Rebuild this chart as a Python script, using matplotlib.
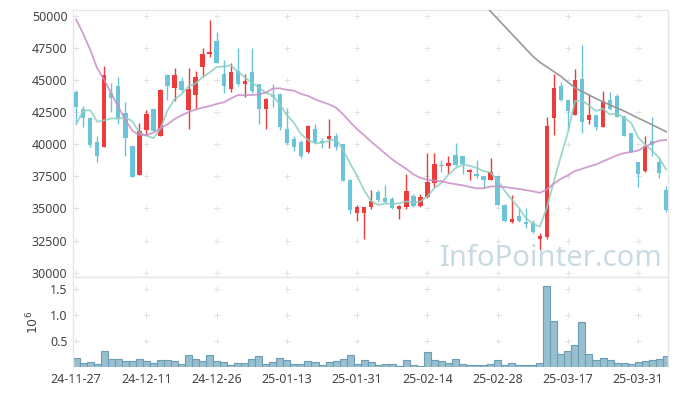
import numpy as np
import pandas as pd
import matplotlib
matplotlib.use("Agg")
import matplotlib.pyplot as plt

plt.rcParams.update({
    'font.family': ['Noto Sans', 'DejaVu Sans'],
    'font.size': 9,
    'text.color': '#444444',
    'xtick.color': '#444444',
    'ytick.color': '#444444',
})

# --- data (one entry per trading day) ---
tick_labels = ["24-11-27", "24-12-11", "24-12-26", "25-01-13", "25-01-31",
               "25-02-14", "25-02-28", "25-03-17", "25-03-31"]

opens = [44050, 42750, 42050, 40150, 39800, 43950, 44550, 42400, 39850, 37600,
         41100, 42750, 40650, 45400, 44400, 44950, 42650, 43850, 46000, 47000,
         48050, 45500, 44300, 45700, 44650, 45600, 44700, 42750, 43800, 43900,
         41200, 40400, 40150, 39400, 41200, 40200, 40400, 40600, 40050, 37200,
         34650, 34650, 35150, 36250, 35800, 35750, 34950, 35150, 36000, 35200,
         35900, 37000, 38400, 38300, 39150, 39100, 37850, 37650, 37550, 37250,
         37550, 35250, 33950, 34450, 33900, 33900, 32600, 32800, 42050, 44550,
         43450, 42300, 45050, 41850, 42300, 41350, 43450, 43750, 42200, 40850,
         38600, 37950, 40250, 38600, 36450]
highs = [44200, 42950, 42100, 40650, 46050, 44750, 45200, 43300, 39850, 41650,
         42700, 42750, 44300, 45500, 45900, 45250, 45900, 45700, 47500, 49700,
         48700, 46550, 46300, 47450, 45500, 47450, 44700, 43600, 44650, 43950,
         42800, 40600, 40350, 41500, 41600, 40450, 42000, 40850, 40050, 37300,
         35250, 35150, 36450, 36400, 36850, 35900, 35300, 37700, 36100, 36150,
         39350, 39300, 38750, 39050, 40100, 39100, 38100, 38750, 37550, 38900,
         37550, 35350, 36050, 35000, 35000, 34100, 33100, 42150, 45500, 44850,
         43450, 45850, 47750, 43900, 42300, 44150, 44100, 43900, 42200, 40850,
         38600, 40650, 42150, 38950, 36750]
lows = [41650, 41300, 39750, 38650, 39750, 42500, 41600, 39100, 37450, 37600,
        40700, 41000, 40600, 43450, 43350, 44100, 41200, 42750, 45250, 46800,
        46300, 43950, 44050, 44500, 43650, 43950, 41550, 41150, 42900, 41100,
        40050, 39450, 38900, 39350, 40000, 39700, 39700, 39550, 37150, 34600,
        34050, 32600, 34950, 35500, 35450, 34950, 34150, 34950, 35150, 35100,
        35850, 36700, 37800, 37650, 38300, 37700, 37250, 37400, 36600, 37200,
        35250, 33950, 33850, 33950, 33500, 33100, 31800, 32650, 40700, 43400,
        41100, 42300, 40850, 41600, 41100, 41350, 42650, 42100, 40600, 39400,
        36700, 37800, 39050, 37350, 34700]
closes = [42900, 42050, 39900, 39100, 45350, 43600, 42000, 40450, 37450, 41050,
          42350, 41050, 44200, 44500, 45400, 44200, 44300, 45200, 47050, 47150,
          46350, 44500, 45650, 44650, 44950, 44150, 42750, 43500, 43700, 41300,
          40100, 39750, 39100, 41400, 40150, 40100, 40600, 39750, 37150, 34900,
          35150, 35100, 35550, 35650, 35500, 35050, 35200, 36350, 35200, 35900,
          37050, 38450, 38300, 38500, 38350, 38450, 38000, 37500, 37200, 37850,
          35300, 34000, 34150, 34000, 33800, 33150, 32850, 41400, 44350, 43450,
          42550, 45000, 41750, 42300, 41350, 43400, 42750, 42150, 40650, 39400,
          37700, 39850, 39900, 37750, 34900]
# volume in millions of shares
volume = [0.172, 0.077, 0.096, 0.057, 0.306, 0.153, 0.153, 0.115, 0.115, 0.153,
          0.115, 0.077, 0.134, 0.134, 0.115, 0.057, 0.230, 0.153, 0.115, 0.230,
          0.115, 0.096, 0.038, 0.077, 0.077, 0.153, 0.211, 0.057, 0.096, 0.172,
          0.134, 0.057, 0.057, 0.115, 0.096, 0.038, 0.096, 0.121, 0.153, 0.230,
          0.057, 0.134, 0.096, 0.038, 0.057, 0.057, 0.019, 0.134, 0.038, 0.019,
          0.287, 0.134, 0.115, 0.077, 0.153, 0.057, 0.038, 0.038, 0.038, 0.057,
          0.134, 0.038, 0.077, 0.038, 0.038, 0.038, 0.077, 1.552, 0.881, 0.249,
          0.306, 0.421, 0.862, 0.249, 0.134, 0.172, 0.134, 0.077, 0.077, 0.057,
          0.096, 0.115, 0.134, 0.153, 0.211]

# moving-average values before enough closes are on the chart
ma5_head = [41550, 42600, 42650, 41750]
ma20_head = [49700, 48600, 47350, 45900, 45000, 43950, 42900, 41900, 41050, 40700,
             40700, 40900, 41250, 41550, 41950, 42250, 42500, 42700, 42850]
# long moving average (grey), only visible from day 58 on
ma_long_start = 58
ma_long = [50900, 50330, 49750, 49170, 48590, 48010, 47430, 46850, 46380, 46020,
           45650, 45280, 44820, 44400, 44110, 43830, 43550, 43300, 43060, 42820,
           42580, 42310, 42030, 41780, 41510, 41240, 40970]

RED = '#ee3b3b'
BLUE = '#6cc4d9'

o = np.array(opens, float)
h = np.array(highs, float)
l = np.array(lows, float)
c = np.array(closes, float)
x = np.arange(len(c))

ma5 = pd.Series(c).rolling(5).mean().to_numpy()
ma5[:4] = ma5_head
ma20 = pd.Series(c).rolling(20).mean().to_numpy()
ma20[:19] = ma20_head

W, H = 677, 396
fig = plt.figure(figsize=(W / 100, H / 100), dpi=100)
ax = fig.add_axes([73 / W, 1 - 277 / H, 595 / W, 267 / H])
axv = fig.add_axes([73 / W, 1 - 367 / H, 595 / W, 90 / H], sharex=ax)

up = c >= o
cols = np.where(up, RED, BLUE)
body_lo = np.minimum(o, c)
body_h = np.maximum(np.abs(c - o), 120)

ax.vlines(x, l, h, colors=cols, linewidth=1.0, zorder=2)
ax.bar(x, body_h, bottom=body_lo, width=0.62, color=cols, linewidth=0, zorder=3)

ax.plot(x, ma5, color='#8dcfc3', lw=1.3, alpha=0.85, zorder=4)
ax.plot(x, ma20, color='#c98ec6', lw=1.3, alpha=0.85, zorder=4)
xl = np.arange(ma_long_start, ma_long_start + len(ma_long))
ax.plot(xl, ma_long, color='#999999', lw=1.2, zorder=4)

yt = np.arange(30000, 50001, 2500)
xt = np.arange(0, 81, 10)
ax.set_ylim(29665, 50444)
ax.set_xlim(-0.45, 84.25)
ax.set_yticks(yt)
ax.set_yticklabels([str(v) for v in yt])
gx, gy = np.meshgrid(xt, yt)
ax.plot(gx.ravel(), gy.ravel(), '+', color='#e2e2e2', ms=4, mew=0.7, zorder=1)
ax.tick_params(axis='both', length=0, pad=4, labelsize=9)
ax.tick_params(axis='x', labelbottom=False)

axv.bar(x, volume, width=1.0, color='#98bfcf', edgecolor='#6d9db4', linewidth=0.8, zorder=2)
vt = [0.5, 1.0, 1.5]
axv.set_ylim(0, 1.73)
axv.set_yticks(vt)
axv.set_yticklabels(['0.5', '1.0', '1.5'])
vx, vy = np.meshgrid(xt, vt)
axv.plot(vx.ravel(), vy.ravel(), '+', color='#e2e2e2', ms=4, mew=0.7, zorder=1)
axv.set_xticks(xt)
axv.set_xticklabels(tick_labels)
axv.tick_params(axis='both', length=0, pad=4, labelsize=9)

for a in (ax, axv):
    for s in a.spines.values():
        s.set_color('#e6e6e6')
        s.set_linewidth(1.0)
axv.spines['bottom'].set_visible(False)

fig.text(33 / W, 1 - 322 / H, r'$10^6$', rotation=90, ha='center', va='center',
         fontsize=9, color='#444444')
fig.text(551 / W, 1 - 266 / H, 'InfoPointer.com', ha='center', va='baseline',
         fontsize=21, color='#c3d6e0', alpha=0.9, zorder=0)

fig.savefig('out.png', dpi=100)
